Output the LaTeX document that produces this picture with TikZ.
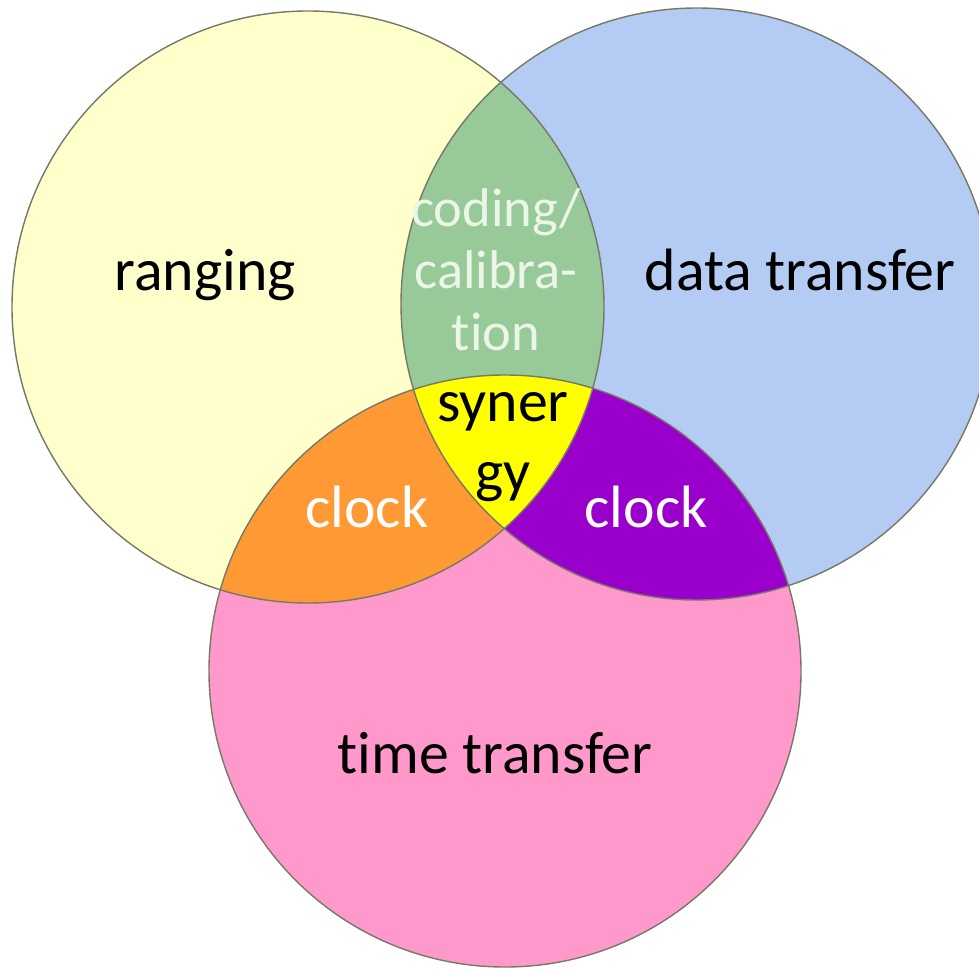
\documentclass[tikz,border=0pt]{standalone}
\usepackage{fontspec}
\setmainfont{Carlito}[Ligatures={CommonOff,ContextualOff}]
\usetikzlibrary{positioning}
\definecolor{rangecol}{RGB}{255,255,204}
\definecolor{datacol}{RGB}{180,204,244}
\definecolor{timecol}{RGB}{255,153,204}
\definecolor{codecol}{RGB}{152,201,152}
\definecolor{clockL}{RGB}{255,153,51}
\definecolor{clockR}{RGB}{153,0,204}
\definecolor{synercol}{RGB}{255,255,0}
\definecolor{ringline}{RGB}{120,120,105}
\definecolor{codetext}{RGB}{236,246,232}

\begin{document}
\begin{tikzpicture}[x=0.01cm, y=-0.01cm,
	ring/.style={draw=ringline, line width=0.4pt},
	lbl/.style={font=\fontsize{17}{17.6}\selectfont, inner sep=0pt, anchor=base}]
	\useasboundingbox (0,0) rectangle (979,970);
	\def\rad{296}
	\coordinate (L) at (308,307);
	\coordinate (R) at (697,304);
	\coordinate (B) at (505,671);
	% the three sets
	\fill[rangecol] (L) circle (\rad);
	\fill[datacol] (R) circle (\rad);
	\fill[timecol] (B) circle (\rad);
	% pairwise overlaps
	\begin{scope}
		\clip (L) circle (\rad);
		\fill[codecol] (R) circle (\rad);
		\fill[clockL] (B) circle (\rad);
	\end{scope}
	\begin{scope}
		\clip (R) circle (\rad);
		\fill[clockR] (B) circle (\rad);
	\end{scope}
	% centre
	\begin{scope}
		\clip (L) circle (\rad);
		\clip (R) circle (\rad);
		\fill[synercol] (B) circle (\rad);
	\end{scope}
	\draw[ring] (L) circle (\rad);
	\draw[ring] (R) circle (\rad);
	\draw[ring] (B) circle (\rad);
	% labels
	\node[lbl] (ranging) at (205,290) {ranging};
	\node[lbl] (data) at (800,290) {data transfer};
	\node[lbl] (time) at (495,773) {time transfer};
	\node[lbl, text=white] (clk1) at (367,527) {clock};
	\node[lbl, text=white] (clk2) at (646,527) {clock};
	\node[lbl, anchor=center, align=center, text=codetext,
		font=\fontsize{15.5}{17.6}\selectfont] (code) at (496,270) {coding/\\calibra-\\tion};
	\node[lbl, anchor=center, align=center, font=\fontsize{17}{19.9}\selectfont] (syn) at (503,447) {syner\\gy};
\end{tikzpicture}
\end{document}
